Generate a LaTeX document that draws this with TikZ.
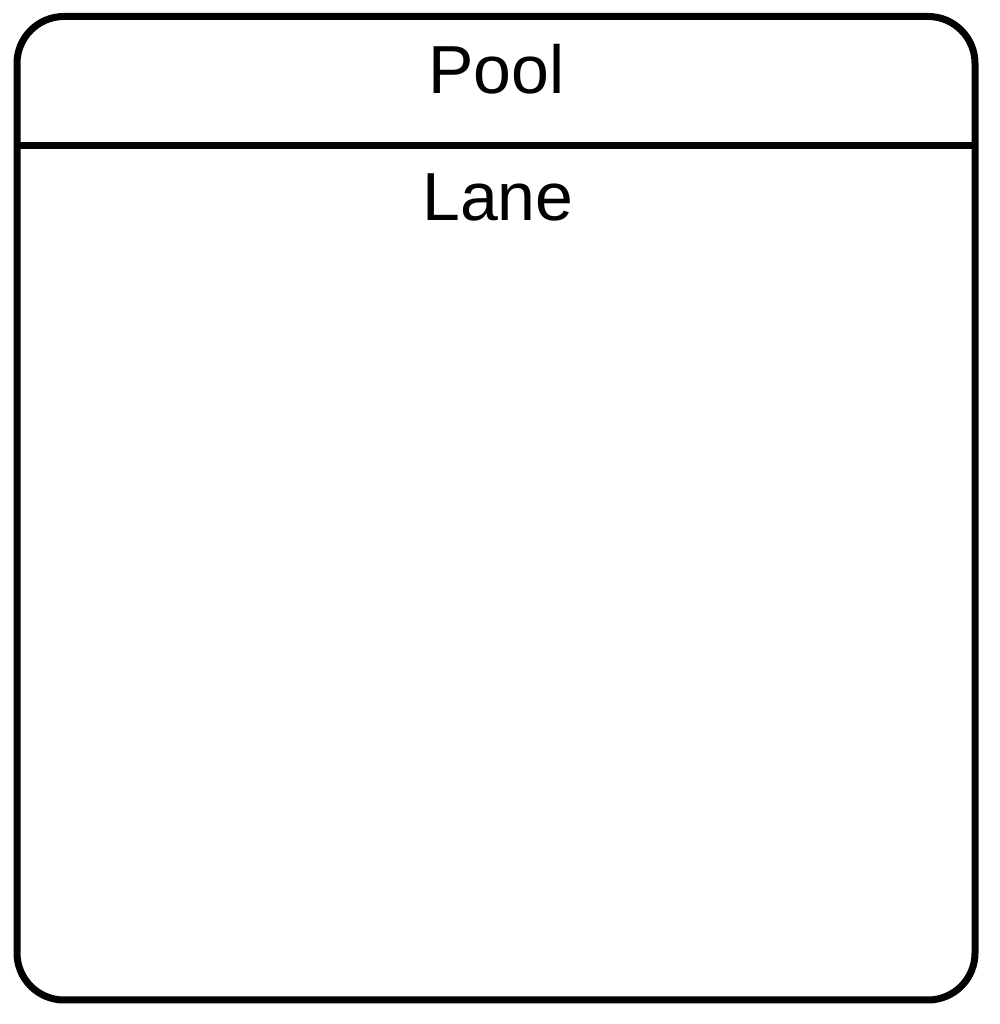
\documentclass[tikz,border=0pt]{standalone}
\usepackage{fontspec}
\setmainfont{Liberation Sans}
\begin{document}
\begin{tikzpicture}[x=1pt,y=1pt,
  frame/.style={draw=black,line width=7pt,rounded corners=47pt,inner sep=0pt,outer sep=0pt,minimum width=958pt,minimum height=983.5pt},
  divider/.style={draw=black,line width=6.5pt},
  title/.style={inner sep=0pt,anchor=base,font=\fontsize{68}{68}\selectfont}]
\useasboundingbox (0,0) rectangle (999,1024);
\fill[white] (0,0) rectangle (999,1024);
\node[frame] (pool) at (496,515.75) {};
\coordinate (dl) at (pool.west |- 0,878.5);
\coordinate (dr) at (pool.east |- 0,878.5);
\draw[divider] (dl) -- (dr);
\node[title] (pooltext) at (496.5,930) {Pool};
\node[title] (lanetext) at (498,803) {Lane};
\end{tikzpicture}
\end{document}
